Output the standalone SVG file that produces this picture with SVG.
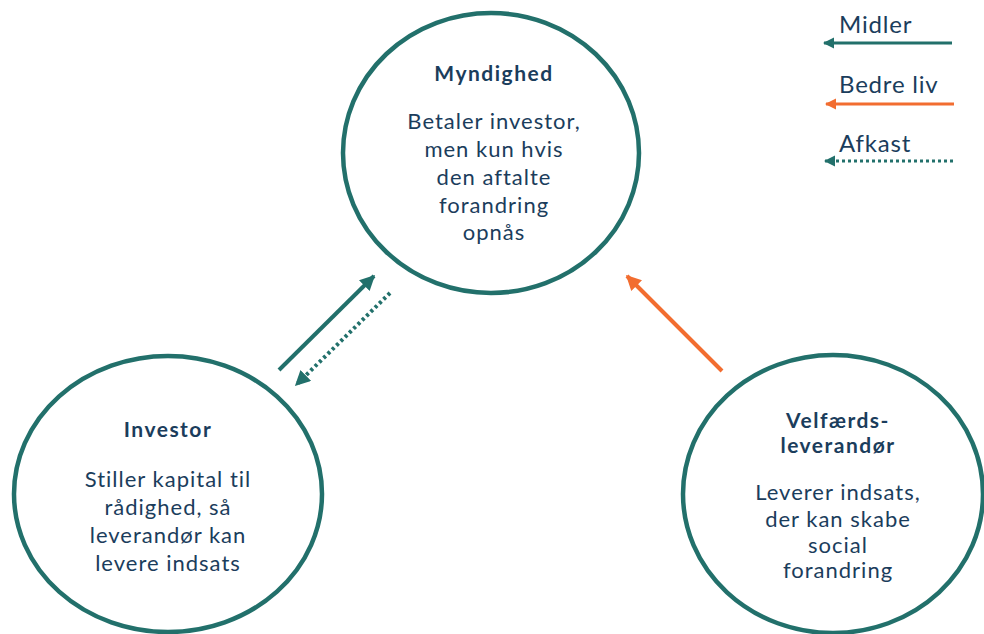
<svg xmlns="http://www.w3.org/2000/svg" width="984" height="634" viewBox="0 0 984 634">
<style>
.node{fill:none;stroke:#22706b;stroke-width:4.5}
.t{font-family:Lato,"Open Sans","Liberation Sans",sans-serif;fill:#1b3d5c;text-anchor:middle}
.title{font-size:21px;font-weight:bold;letter-spacing:1.5px}
.body{font-size:22px;letter-spacing:1px}
.leg{font-family:Lato,"Open Sans","Liberation Sans",sans-serif;fill:#1b3d5c;font-size:24px;letter-spacing:0.8px}
.teal{stroke:#22706b;fill:none}
.orange{stroke:#f26d30;fill:none}
.dot{stroke-dasharray:3 3}
</style>
<defs>
<marker id="ahTeal" viewBox="0 0 10 10" refX="9" refY="5" markerWidth="3.8" markerHeight="3.8" orient="auto" markerUnits="strokeWidth">
<path d="M0,0 L10,5 L0,10 z" fill="#22706b"/>
</marker>
<marker id="ahOrange" viewBox="0 0 10 10" refX="9" refY="5" markerWidth="3.8" markerHeight="3.8" orient="auto" markerUnits="strokeWidth">
<path d="M0,0 L10,5 L0,10 z" fill="#f26d30"/>
</marker>
</defs>
<rect width="984" height="634" fill="#ffffff"/>

<g id="legend">
<text class="leg" x="839" y="33">Midler</text>
<line class="teal" x1="952" y1="43" x2="824" y2="43" stroke-width="3" marker-end="url(#ahTeal)"/>
<text class="leg" x="839" y="93">Bedre liv</text>
<line class="orange" x1="954" y1="104" x2="826" y2="104" stroke-width="3" marker-end="url(#ahOrange)"/>
<text class="leg" x="839" y="152">Afkast</text>
<line class="teal dot" x1="953" y1="161" x2="825" y2="161" stroke-width="3" marker-end="url(#ahTeal)"/>
</g>

<g id="myndighed">
<ellipse class="node" cx="491" cy="153" rx="148" ry="140"/>
<text class="t title" x="494" y="81">Myndighed</text>
<text class="t body" x="494" y="129">Betaler investor,</text>
<text class="t body" x="494" y="157">men kun hvis</text>
<text class="t body" x="494" y="185">den aftalte</text>
<text class="t body" x="494" y="213">forandring</text>
<text class="t body" x="494" y="240">opnås</text>
</g>

<g id="investor">
<ellipse class="node" cx="168" cy="494" rx="154" ry="138"/>
<text class="t title" x="168" y="437">Investor</text>
<text class="t body" x="168" y="487">Stiller kapital til</text>
<text class="t body" x="168" y="515">rådighed, så</text>
<text class="t body" x="168" y="543">leverandør kan</text>
<text class="t body" x="168" y="571">levere indsats</text>
</g>

<g id="velfaerdsleverandoer">
<ellipse class="node" cx="833" cy="494" rx="150" ry="139"/>
<text class="t title" x="838" y="428">Velfærds-</text>
<text class="t title" x="838" y="453">leverandør</text>
<text class="t body" x="838" y="500">Leverer indsats,</text>
<text class="t body" x="838" y="527">der kan skabe</text>
<text class="t body" x="838" y="553">social</text>
<text class="t body" x="838" y="578">forandring</text>
</g>

<g id="connectors">
<line class="teal" x1="279" y1="370" x2="374" y2="276" stroke-width="4" marker-end="url(#ahTeal)"/>
<line class="teal dot" x1="390" y1="293" x2="296" y2="385" stroke-width="4" marker-end="url(#ahTeal)"/>
<line class="orange" x1="722" y1="371" x2="627" y2="276" stroke-width="4" marker-end="url(#ahOrange)"/>
</g>
</svg>
